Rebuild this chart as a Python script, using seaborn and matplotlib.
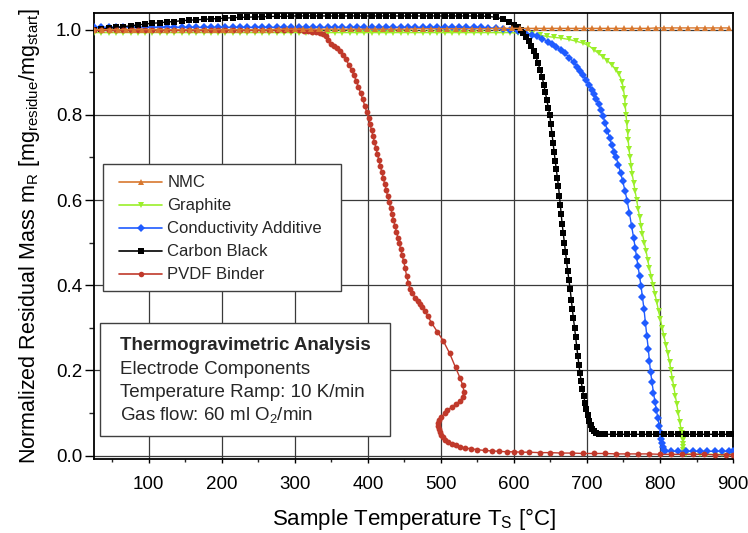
import matplotlib
matplotlib.use("Agg")
import matplotlib.pyplot as plt
import matplotlib.patches as mpatches
from matplotlib.lines import Line2D
from matplotlib.ticker import MultipleLocator
import pandas as pd
import seaborn as sns

# --- data (temperature in degC, normalized mass) ---
nmc_temp = [25, 36, 47, 58, 69, 80, 91, 102, 113, 124,
            135, 146, 157, 168, 179, 190, 201, 212, 223, 234,
            245, 256, 267, 278, 289, 300, 311, 322, 333, 344,
            355, 366, 377, 388, 399, 410, 421, 432, 443, 454,
            465, 476, 487, 498, 509, 520, 531, 542, 553, 564,
            575, 586, 597, 608, 619, 630, 641, 652, 663, 674,
            685, 696, 707, 718, 729, 740, 751, 762, 773, 784,
            795, 806, 817, 828, 839, 850, 861, 872, 883, 894]
nmc_mass = [1.000, 1.000, 1.000, 1.000, 1.000, 1.000, 1.000, 1.000, 1.000, 1.000,
            1.000, 1.000, 1.000, 1.000, 1.000, 1.000, 1.000, 1.000, 1.000, 1.000,
            1.000, 1.000, 1.000, 1.001, 1.001, 1.001, 1.001, 1.001, 1.001, 1.001,
            1.001, 1.001, 1.001, 1.001, 1.001, 1.001, 1.001, 1.001, 1.001, 1.001,
            1.002, 1.002, 1.002, 1.002, 1.002, 1.002, 1.002, 1.002, 1.002, 1.002,
            1.003, 1.003, 1.003, 1.003, 1.003, 1.003, 1.003, 1.003, 1.003, 1.003,
            1.003, 1.003, 1.003, 1.003, 1.003, 1.003, 1.003, 1.003, 1.003, 1.003,
            1.004, 1.004, 1.004, 1.004, 1.004, 1.004, 1.004, 1.004, 1.004, 1.004]

graphite_temp = [25, 35, 45, 55, 65, 75, 85, 95, 105, 115,
                 125, 135, 145, 155, 165, 175, 185, 195, 205, 215,
                 225, 235, 245, 255, 265, 275, 285, 295, 305, 315,
                 325, 335, 345, 355, 365, 375, 385, 395, 405, 415,
                 425, 435, 445, 455, 465, 475, 485, 495, 505, 515,
                 525, 535, 545, 555, 565, 575, 585, 595,
                 605, 615, 625, 635, 645, 655, 665, 675, 685, 695,
                 702, 710, 716, 722, 728, 734, 740, 744, 748, 750,
                 751.5, 752.5, 753.5, 754.5, 755.5, 756.5, 757.5, 759, 760.5, 762,
                 764, 766, 768, 770, 772, 774, 776, 778.5, 781, 783,
                 785.5, 788, 790.5, 793, 795.5, 798, 800.5, 803, 805.5, 808,
                 810.5, 813, 815, 817, 819, 821, 823, 825, 827, 829,
                 830.5, 831, 831.2, 831.4, 831.6, 831.8, 832.5, 835, 845, 855,
                 865, 875, 885, 895, 900]
graphite_mass = [0.993, 0.993, 0.993, 0.993, 0.993, 0.993, 0.993, 0.993, 0.993, 0.993,
                 0.993, 0.993, 0.993, 0.993, 0.993, 0.993, 0.993, 0.993, 0.993, 0.993,
                 0.993, 0.993, 0.993, 0.993, 0.993, 0.993, 0.993, 0.993, 0.993, 0.993,
                 0.993, 0.993, 0.993, 0.993, 0.993, 0.993, 0.993, 0.993, 0.993, 0.993,
                 0.993, 0.993, 0.993, 0.993, 0.993, 0.993, 0.993, 0.993, 0.993, 0.993,
                 0.993, 0.993, 0.993, 0.993, 0.993, 0.993, 0.993, 0.993,
                 0.992, 0.991, 0.989, 0.987, 0.984, 0.982, 0.980, 0.977, 0.973, 0.968,
                 0.963, 0.952, 0.944, 0.936, 0.927, 0.917, 0.906, 0.895, 0.878, 0.860,
                 0.840, 0.820, 0.800, 0.780, 0.760, 0.740, 0.720, 0.700, 0.680, 0.660,
                 0.640, 0.620, 0.600, 0.580, 0.560, 0.540, 0.520, 0.500, 0.480, 0.460,
                 0.440, 0.420, 0.400, 0.380, 0.360, 0.340, 0.320, 0.300, 0.280, 0.260,
                 0.240, 0.220, 0.200, 0.180, 0.160, 0.140, 0.120, 0.100, 0.080, 0.060,
                 0.052, 0.044, 0.036, 0.028, 0.020, 0.012, 0.006, 0.004, 0.003, 0.003,
                 0.003, 0.003, 0.003, 0.003, 0.003]

additive_temp = [25, 35, 45, 55, 65, 75, 85, 95, 105, 115,
                 125, 135, 145, 155, 165, 175, 185, 195, 205, 215,
                 225, 235, 245, 255, 265, 275, 285, 295, 305, 315,
                 325, 335, 345, 355, 365, 375, 385, 395, 405, 415,
                 425, 435, 445, 455, 465, 475, 485, 495, 505, 515,
                 525, 535, 545, 555,
                 565, 575, 585, 595, 605, 615, 625, 632, 639, 646,
                 652, 658, 664, 670, 676, 682, 687, 691, 695, 699,
                 703, 707, 710, 713, 716, 719, 722, 725, 728, 731,
                 734, 737, 740, 743, 746, 749, 752, 755, 758, 761,
                 764, 766, 768, 770, 772, 774, 776, 778, 780, 782,
                 784, 785.5, 787, 789, 791, 793, 795, 797, 799, 801,
                 802, 803, 804, 805, 807, 815, 825, 835, 845, 855,
                 865, 875, 885, 895, 900]
additive_mass = [1.005, 1.005, 1.005, 1.005, 1.005, 1.005, 1.005, 1.005, 1.005, 1.005,
                 1.005, 1.005, 1.005, 1.005, 1.005, 1.005, 1.005, 1.005, 1.005, 1.005,
                 1.005, 1.005, 1.005, 1.005, 1.005, 1.005, 1.005, 1.005, 1.005, 1.005,
                 1.005, 1.005, 1.005, 1.005, 1.005, 1.005, 1.005, 1.005, 1.005, 1.005,
                 1.005, 1.005, 1.005, 1.005, 1.005, 1.005, 1.005, 1.005, 1.005, 1.005,
                 1.005, 1.005, 1.005, 1.005,
                 1.004, 1.003, 1.002, 1.000, 0.997, 0.993, 0.988, 0.984, 0.979, 0.972,
                 0.966, 0.960, 0.953, 0.944, 0.934, 0.923, 0.913, 0.903, 0.893, 0.882,
                 0.870, 0.858, 0.848, 0.837, 0.825, 0.811, 0.797, 0.780, 0.763, 0.746,
                 0.729, 0.713, 0.700, 0.683, 0.664, 0.644, 0.622, 0.598, 0.570, 0.540,
                 0.510, 0.488, 0.466, 0.444, 0.421, 0.398, 0.372, 0.345, 0.312, 0.280,
                 0.250, 0.222, 0.197, 0.172, 0.148, 0.127, 0.107, 0.089, 0.070, 0.052,
                 0.040, 0.030, 0.020, 0.013, 0.011, 0.010, 0.010, 0.010, 0.010, 0.010,
                 0.010, 0.010, 0.010, 0.010, 0.010]

black_temp = [25, 35, 45, 55, 65, 75, 85, 95, 105, 115,
              125, 135, 145, 155, 165, 175, 185, 195, 205, 215,
              225, 235, 245, 255, 265, 275, 285, 295,
              305, 315, 325, 335, 345, 355, 365, 375, 385, 395,
              405, 415, 425, 435, 445, 455, 465, 475, 485, 495,
              505, 515, 525, 535, 545, 555,
              565, 575, 585, 593, 600, 605, 609, 613, 617, 620,
              624, 627, 630, 633, 636, 638.5, 641, 643, 645, 647,
              649, 650.5, 652, 653.5, 655, 656.5, 658, 659.5, 661, 662.3,
              663.5, 664.7, 666, 667.5, 669, 670.5, 672, 673.6, 675.3, 677,
              678.5, 680, 681.5, 683, 684.5, 686, 687.5, 689, 690.5, 692,
              693.7, 695.5, 697.3, 699.2, 701, 703, 705, 707, 709, 712,
              716, 725, 735, 745, 755, 765, 775, 785, 795, 805,
              815, 825, 835, 845, 855, 865, 875, 885, 895, 900]
black_mass = [1.000, 1.001, 1.003, 1.005, 1.007, 1.009, 1.011, 1.013, 1.015, 1.016,
              1.018, 1.019, 1.021, 1.022, 1.023, 1.024, 1.025, 1.026, 1.027, 1.028,
              1.029, 1.029, 1.030, 1.030, 1.031, 1.031, 1.031, 1.032,
              1.032, 1.032, 1.032, 1.032, 1.032, 1.032, 1.032, 1.032, 1.032, 1.032,
              1.032, 1.032, 1.032, 1.032, 1.032, 1.032, 1.032, 1.032, 1.032, 1.032,
              1.032, 1.032, 1.032, 1.032, 1.032, 1.032,
              1.031, 1.029, 1.025, 1.019, 1.012, 1.005, 0.999, 0.991, 0.982, 0.974,
              0.962, 0.950, 0.937, 0.921, 0.905, 0.889, 0.870, 0.853, 0.835, 0.817,
              0.800, 0.778, 0.756, 0.734, 0.712, 0.692, 0.672, 0.652, 0.632, 0.610,
              0.588, 0.566, 0.544, 0.522, 0.500, 0.478, 0.456, 0.434, 0.412, 0.390,
              0.366, 0.343, 0.322, 0.300, 0.278, 0.255, 0.233, 0.212, 0.193, 0.175,
              0.157, 0.140, 0.124, 0.109, 0.095, 0.082, 0.071, 0.063, 0.057, 0.053,
              0.051, 0.050, 0.050, 0.050, 0.050, 0.050, 0.050, 0.050, 0.050, 0.050,
              0.050, 0.050, 0.050, 0.050, 0.050, 0.050, 0.050, 0.050, 0.050, 0.050]

# PVDF runs back in temperature (exothermic burn-off), so keep recording order
pvdf_temp = [25, 35, 45, 55, 65, 75, 85, 95, 105, 115,
             125, 135, 145, 155, 165, 175, 185, 195, 205, 215,
             225, 235, 245, 255, 265, 275, 285, 295, 305,
             312, 318, 324, 329, 334, 338, 342, 346, 350, 354,
             358, 362, 366, 370, 374, 378, 381, 384, 387, 390,
             393, 396, 398.5, 401, 403, 405, 407, 409, 411, 413,
             415, 417, 419, 421, 423, 425, 427, 429, 431, 433,
             435, 437, 439, 441, 443, 445, 447, 449, 451, 453,
             455.5, 458, 461, 464.5, 468, 471, 474.5, 478, 482, 487,
             495, 503, 512, 520, 526, 530, 531.5, 530.5, 526, 520,
             514.7, 509, 505, 500.5, 497.5, 496, 496, 497, 498.5, 500.5,
             503, 506, 510, 515, 520, 526, 533, 541, 550, 560,
             570, 580, 590, 600, 610, 620, 635, 650, 665, 680,
             695, 710, 725, 740, 755, 770, 785, 800, 815, 830,
             845, 860, 875, 890, 900]
pvdf_mass = [0.998, 0.998, 0.998, 0.998, 0.998, 0.998, 0.998, 0.998, 0.998, 0.998,
             0.998, 0.998, 0.998, 0.998, 0.998, 0.998, 0.998, 0.998, 0.998, 0.998,
             0.998, 0.998, 0.998, 0.998, 0.998, 0.998, 0.998, 0.998, 0.998,
             0.997, 0.996, 0.995, 0.994, 0.992, 0.989, 0.984, 0.976, 0.967, 0.962,
             0.957, 0.950, 0.941, 0.930, 0.917, 0.905, 0.893, 0.880, 0.866, 0.851,
             0.836, 0.820, 0.806, 0.792, 0.778, 0.764, 0.750, 0.736, 0.722, 0.708,
             0.694, 0.680, 0.666, 0.652, 0.638, 0.624, 0.610, 0.596, 0.582, 0.568,
             0.554, 0.540, 0.526, 0.512, 0.498, 0.484, 0.470, 0.456, 0.440, 0.422,
             0.405, 0.391, 0.381, 0.371, 0.363, 0.356, 0.348, 0.340, 0.328, 0.312,
             0.291, 0.270, 0.240, 0.207, 0.183, 0.165, 0.150, 0.138, 0.128, 0.120,
             0.114, 0.106, 0.099, 0.091, 0.084, 0.077, 0.070, 0.063, 0.056, 0.049,
             0.043, 0.037, 0.031, 0.027, 0.024, 0.021, 0.018, 0.016, 0.014, 0.012,
             0.011, 0.010, 0.009, 0.009, 0.008, 0.008, 0.007, 0.007, 0.006, 0.006,
             0.005, 0.005, 0.005, 0.004, 0.004, 0.004, 0.004, 0.003, 0.003, 0.003,
             0.003, 0.003, 0.002, 0.002, 0.002]

labels = ["NMC", "Graphite", "Conductivity Additive", "Carbon Black", "PVDF Binder"]
colors = ["#D8782F", "#9BEF2A", "#1F5BFF", "#000000", "#C0392B"]
markers = ["^", "v", "D", "s", "o"]
marker_sizes = [4.5, 4.5, 3.8, 3.8, 4.2]

series = {
    "NMC": (nmc_temp, nmc_mass),
    "Graphite": (graphite_temp, graphite_mass),
    "Conductivity Additive": (additive_temp, additive_mass),
    "Carbon Black": (black_temp, black_mass),
    "PVDF Binder": (pvdf_temp, pvdf_mass),
}

sns.set_theme(style="ticks")
plt.rcParams["font.family"] = ["Liberation Sans", "DejaVu Sans"]
plt.rcParams["mathtext.default"] = "regular"

fig = plt.figure(figsize=(7.48, 5.33), dpi=100)
ax = fig.add_axes([0.1257, 0.1388, 0.8543, 0.8368])

draw_order = ["Graphite", "Conductivity Additive", "Carbon Black", "PVDF Binder", "NMC"]
for name in draw_order:
    i = labels.index(name)
    temp, mass = series[name]
    df = pd.DataFrame({"temperature": temp, "mass": mass})
    sns.lineplot(data=df, x="temperature", y="mass", sort=False, estimator=None,
                 color=colors[i], marker=markers[i], markersize=marker_sizes[i],
                 markeredgecolor=colors[i], markeredgewidth=0, linewidth=1.0,
                 legend=False, ax=ax, zorder=3)

ax.set_xlim(25, 900)
ax.set_ylim(-0.008, 1.039)
ax.xaxis.set_major_locator(MultipleLocator(100))
ax.xaxis.set_minor_locator(MultipleLocator(50))
ax.yaxis.set_major_locator(MultipleLocator(0.2))
ax.yaxis.set_minor_locator(MultipleLocator(0.1))
ax.grid(True, which="major", color="#3a3a3a", linewidth=0.9)
ax.set_axisbelow(True)

for side in ax.spines.values():
    side.set_linewidth(1.3)
    side.set_color("black")

ax.tick_params(axis="x", which="major", direction="out", length=3, width=1.0,
               pad=9, labelsize=13.5, colors="black")
ax.tick_params(axis="x", which="minor", direction="out", length=2.5, width=1.0)
ax.tick_params(axis="y", which="major", direction="out", length=6.5, width=1.0,
               pad=2, labelsize=13.5, colors="black")
ax.tick_params(axis="y", which="minor", direction="out", length=3.5, width=1.0)

ax.set_xlabel("Sample Temperature T$_S$ [°C]", fontsize=16, labelpad=9.5, color="black")
ax.set_ylabel("Normalized Residual Mass m$_R$ [mg$_{residue}$/mg$_{start}$]",
              fontsize=15.5, labelpad=10, color="black")

# legend, framed by a hand-placed box so the padding matches
legend_frame = mpatches.Rectangle((0.0146, 0.377), 0.3714, 0.284, transform=ax.transAxes,
                                  facecolor="white", edgecolor="#404040", linewidth=1.0,
                                  zorder=6)
ax.add_patch(legend_frame)
handles = [Line2D([], [], color=c, marker=m, markersize=4, markeredgewidth=0, linewidth=1.2)
           for c, m in zip(colors, markers)]
leg = ax.legend(handles, labels, loc="upper left", bbox_to_anchor=(0.0396, 0.636),
                borderaxespad=0, borderpad=0, frameon=False, fontsize=12,
                handlelength=2.55, handletextpad=0.32, labelspacing=0.48)
leg.set_zorder(7)

# info box
info_frame = mpatches.Rectangle((0.0094, 0.0516), 0.4538, 0.2534, transform=ax.transAxes,
                                facecolor="white", edgecolor="#404040", linewidth=1.0,
                                zorder=6)
ax.add_patch(info_frame)
ax.text(0.041, 0.244, "Thermogravimetric Analysis", transform=ax.transAxes,
        fontsize=13.5, fontweight="bold", va="baseline", zorder=7)
info_lines = ["Electrode Components", "Temperature Ramp: 10 K/min", "Gas flow: 60 ml O$_2$/min"]
for line, y in zip(info_lines, [0.191, 0.139, 0.087]):
    ax.text(0.041, y, line, transform=ax.transAxes, fontsize=13.5, va="baseline", zorder=7)

fig.savefig("out.png", dpi=100)
